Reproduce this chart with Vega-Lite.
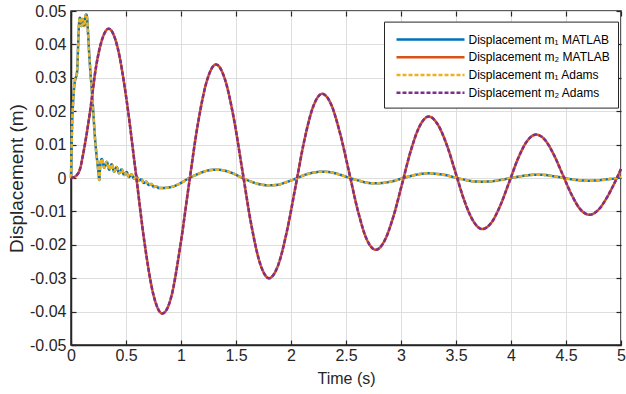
{
  "$schema": "https://vega.github.io/schema/vega-lite/v6.json",
  "width": 550,
  "height": 334,
  "autosize": {"type": "none"},
  "padding": {"left": 71, "top": 11, "right": 5, "bottom": 49},
  "background": "white",
  "config": {
    "font": "Liberation Sans",
    "view": {"stroke": "#262626", "strokeWidth": 1.5},
    "axis": {
      "domainColor": "#262626",
      "domainWidth": 1.5,
      "tickColor": "#262626",
      "tickSize": -5,
      "tickWidth": 1.2,
      "labelColor": "#262626",
      "labelFont": "Liberation Sans",
      "labelFontSize": 16,
      "labelFlush": false,
      "labelOverlap": false,
      "titleFont": "Liberation Sans",
      "titleFontWeight": "normal",
      "titleColor": "#262626",
      "gridColor": "#dedede",
      "gridWidth": 1
    },
    "legend": {
      "orient": "none",
      "legendX": 313,
      "legendY": 10.6,
      "labelFont": "Liberation Sans",
      "labelFontSize": 12,
      "labelColor": "#000000",
      "labelLimit": 0,
      "symbolType": "M-4,0H4",
      "symbolSize": 289,
      "symbolStrokeWidth": 2.5,
      "symbolOffset": 28.5,
      "labelOffset": 28,
      "strokeColor": "#262626",
      "fillColor": "white",
      "padding": 8,
      "rowPadding": 1.7
    }
  },
  "datasets": {
    "m1": [
      {"t": 0, "y": 0}, {"t": 0.004, "y": 0.007}, {"t": 0.01, "y": 0.016}, {"t": 0.018, "y": 0.022},
      {"t": 0.028, "y": 0.027}, {"t": 0.038, "y": 0.0295}, {"t": 0.048, "y": 0.0305}, {"t": 0.056, "y": 0.032},
      {"t": 0.064, "y": 0.039}, {"t": 0.072, "y": 0.0455}, {"t": 0.08, "y": 0.048}, {"t": 0.088, "y": 0.0472},
      {"t": 0.096, "y": 0.0455}, {"t": 0.104, "y": 0.0476}, {"t": 0.112, "y": 0.0466}, {"t": 0.12, "y": 0.0455},
      {"t": 0.13, "y": 0.0482}, {"t": 0.138, "y": 0.049}, {"t": 0.146, "y": 0.048}, {"t": 0.154, "y": 0.044},
      {"t": 0.164, "y": 0.038}, {"t": 0.176, "y": 0.032}, {"t": 0.19, "y": 0.026}, {"t": 0.204, "y": 0.019},
      {"t": 0.218, "y": 0.012}, {"t": 0.23, "y": 0.0075}, {"t": 0.242, "y": 0.004}, {"t": 0.25, "y": 0.0015},
      {"t": 0.257, "y": -0.0006}, {"t": 0.265, "y": 0.0035}, {"t": 0.28, "y": 0.0057}, {"t": 0.3025, "y": 0.0031},
      {"t": 0.325, "y": 0.0049}, {"t": 0.3475, "y": 0.0025}, {"t": 0.37, "y": 0.0041}, {"t": 0.3925, "y": 0.0019},
      {"t": 0.415, "y": 0.0033}, {"t": 0.4375, "y": 0.0014}, {"t": 0.46, "y": 0.0026}, {"t": 0.4825, "y": 0.0009},
      {"t": 0.505, "y": 0.0018}, {"t": 0.5275, "y": 0.0003}, {"t": 0.55, "y": 0.0011}, {"t": 0.5725, "y": -0.0002},
      {"t": 0.595, "y": 0.0005}, {"t": 0.6175, "y": -0.0008}, {"t": 0.64, "y": -0.0004}, {"t": 0.6625, "y": -0.0015},
      {"t": 0.685, "y": -0.0011}, {"t": 0.7075, "y": -0.0021}, {"t": 0.73, "y": -0.0018}, {"t": 0.7525, "y": -0.0027},
      {"t": 0.775, "y": -0.0025}, {"t": 0.7975, "y": -0.003}, {"t": 0.83, "y": -0.003}, {"t": 0.911, "y": -0.0027},
      {"t": 0.993, "y": -0.0016}, {"t": 1.074, "y": 0.0}, {"t": 1.155, "y": 0.0012}, {"t": 1.237, "y": 0.0022},
      {"t": 1.318, "y": 0.0025}, {"t": 1.398, "y": 0.0022}, {"t": 1.479, "y": 0.0013}, {"t": 1.559, "y": 0.0},
      {"t": 1.639, "y": -0.0011}, {"t": 1.72, "y": -0.0019}, {"t": 1.8, "y": -0.0022}, {"t": 1.881, "y": -0.002},
      {"t": 1.961, "y": -0.0012}, {"t": 2.042, "y": -0.0002}, {"t": 2.122, "y": 0.0009}, {"t": 2.203, "y": 0.0016},
      {"t": 2.283, "y": 0.0019}, {"t": 2.364, "y": 0.0017}, {"t": 2.445, "y": 0.001}, {"t": 2.527, "y": 0.0001},
      {"t": 2.608, "y": -0.0007}, {"t": 2.689, "y": -0.0014}, {"t": 2.77, "y": -0.0016}, {"t": 2.85, "y": -0.0014},
      {"t": 2.931, "y": -0.0009}, {"t": 3.011, "y": -0.0001}, {"t": 3.091, "y": 0.0006}, {"t": 3.172, "y": 0.0012},
      {"t": 3.252, "y": 0.0014}, {"t": 3.333, "y": 0.0012}, {"t": 3.415, "y": 0.0008}, {"t": 3.496, "y": 0.0001},
      {"t": 3.577, "y": -0.0005}, {"t": 3.659, "y": -0.001}, {"t": 3.74, "y": -0.0011}, {"t": 3.821, "y": -0.001},
      {"t": 3.903, "y": -0.0006}, {"t": 3.984, "y": -0.0001}, {"t": 4.065, "y": 0.0004}, {"t": 4.147, "y": 0.0008},
      {"t": 4.228, "y": 0.001}, {"t": 4.309, "y": 0.0009}, {"t": 4.389, "y": 0.0005}, {"t": 4.47, "y": 0.0001},
      {"t": 4.551, "y": -0.0004}, {"t": 4.631, "y": -0.0007}, {"t": 4.712, "y": -0.0008}, {"t": 4.792, "y": -0.0007},
      {"t": 4.871, "y": -0.0004}, {"t": 4.951, "y": -0.0001}, {"t": 5.0, "y": 0.0003}
    ],
    "m2": [
      {"t": 0, "y": 0}, {"t": 0.04, "y": 0.0005}, {"t": 0.08, "y": 0.0025}, {"t": 0.114, "y": 0.0078},
      {"t": 0.1715, "y": 0.0195}, {"t": 0.2287, "y": 0.0335}, {"t": 0.2858, "y": 0.0418}, {"t": 0.343, "y": 0.0447},
      {"t": 0.424, "y": 0.039}, {"t": 0.505, "y": 0.0234}, {"t": 0.587, "y": 0.0021}, {"t": 0.668, "y": -0.0193},
      {"t": 0.749, "y": -0.0349}, {"t": 0.83, "y": -0.0406}, {"t": 0.911, "y": -0.0356}, {"t": 0.993, "y": -0.0205},
      {"t": 1.074, "y": -0.0015}, {"t": 1.155, "y": 0.0165}, {"t": 1.237, "y": 0.0293}, {"t": 1.318, "y": 0.034},
      {"t": 1.398, "y": 0.0297}, {"t": 1.479, "y": 0.018}, {"t": 1.559, "y": 0.002}, {"t": 1.639, "y": -0.014},
      {"t": 1.72, "y": -0.0257}, {"t": 1.8, "y": -0.03}, {"t": 1.881, "y": -0.0263}, {"t": 1.961, "y": -0.0162},
      {"t": 2.042, "y": -0.0024}, {"t": 2.122, "y": 0.0114}, {"t": 2.203, "y": 0.0215}, {"t": 2.283, "y": 0.0252},
      {"t": 2.364, "y": 0.0221}, {"t": 2.445, "y": 0.0135}, {"t": 2.527, "y": 0.0019}, {"t": 2.608, "y": -0.0098},
      {"t": 2.689, "y": -0.0184}, {"t": 2.77, "y": -0.0215}, {"t": 2.85, "y": -0.0188}, {"t": 2.931, "y": -0.0115},
      {"t": 3.011, "y": -0.0016}, {"t": 3.091, "y": 0.0084}, {"t": 3.172, "y": 0.0157}, {"t": 3.252, "y": 0.0184},
      {"t": 3.333, "y": 0.0161}, {"t": 3.415, "y": 0.01}, {"t": 3.496, "y": 0.0016}, {"t": 3.577, "y": -0.0069},
      {"t": 3.659, "y": -0.013}, {"t": 3.74, "y": -0.0153}, {"t": 3.821, "y": -0.0134}, {"t": 3.903, "y": -0.0082},
      {"t": 3.984, "y": -0.0012}, {"t": 4.065, "y": 0.0059}, {"t": 4.147, "y": 0.0111}, {"t": 4.228, "y": 0.013},
      {"t": 4.309, "y": 0.0114}, {"t": 4.389, "y": 0.007}, {"t": 4.47, "y": 0.001}, {"t": 4.551, "y": -0.005},
      {"t": 4.631, "y": -0.0094}, {"t": 4.712, "y": -0.011}, {"t": 4.792, "y": -0.0096}, {"t": 4.871, "y": -0.0059},
      {"t": 4.951, "y": -0.0008}, {"t": 5.0, "y": 0.0027}
    ]
  },
  "layer": [
    {
      "data": {"name": "m1"},
      "mark": {"type": "line", "strokeWidth": 2.5, "interpolate": "monotone"},
      "encoding": {
        "x": {"field": "t", "type": "quantitative", "scale": {"domain": [0, 5], "nice": false},
          "axis": {"values": [0, 0.5, 1, 1.5, 2, 2.5, 3, 3.5, 4, 4.5, 5], "title": "Time (s)", "titleFontSize": 16,
            "labelExpr": "format(datum.value, '~g')", "labelPadding": 7, "titlePadding": 7, "grid": true}},
        "y": {"field": "y", "type": "quantitative", "scale": {"domain": [-0.05, 0.05], "nice": false, "zero": false},
          "axis": {"values": [-0.05, -0.04, -0.03, -0.02, -0.01, 0, 0.01, 0.02, 0.03, 0.04, 0.05], "title": "Displacement (m)", "titleFontSize": 19,
            "labelExpr": "replace(format(datum.value, '.2~f'), '−', '-')", "labelPadding": 10, "titlePadding": 3, "grid": true}},
        "color": {"datum": "Displacement m₁ MATLAB", "type": "nominal",
          "scale": {"domain": ["Displacement m₁ MATLAB", "Displacement m₂ MATLAB", "Displacement m₁ Adams", "Displacement m₂ Adams"],
            "range": ["#0072BD", "#D95319", "#EDB120", "#7E2F8E"]},
          "legend": {"title": null}},
        "strokeDash": {"datum": "Displacement m₁ MATLAB", "type": "nominal",
          "scale": {"domain": ["Displacement m₁ MATLAB", "Displacement m₂ MATLAB", "Displacement m₁ Adams", "Displacement m₂ Adams"],
            "range": [[1, 0], [1, 0], [4, 2], [4, 2]]},
          "legend": {"title": null}}
      }
    },
    {
      "data": {"name": "m2"},
      "mark": {"type": "line", "strokeWidth": 2.5, "interpolate": "monotone"},
      "encoding": {
        "x": {"field": "t", "type": "quantitative", "axis": null},
        "y": {"field": "y", "type": "quantitative", "axis": null},
        "color": {"datum": "Displacement m₂ MATLAB", "type": "nominal"},
        "strokeDash": {"datum": "Displacement m₂ MATLAB", "type": "nominal"}
      }
    },
    {
      "data": {"name": "m1"},
      "mark": {"type": "line", "strokeWidth": 2.5, "interpolate": "monotone"},
      "encoding": {
        "x": {"field": "t", "type": "quantitative",
          "axis": {"orient": "top", "values": [0, 0.5, 1, 1.5, 2, 2.5, 3, 3.5, 4, 4.5, 5], "labels": false, "title": null, "grid": false, "domain": false}},
        "y": {"field": "y", "type": "quantitative",
          "axis": {"orient": "right", "values": [-0.05, -0.04, -0.03, -0.02, -0.01, 0, 0.01, 0.02, 0.03, 0.04, 0.05], "labels": false, "title": null, "grid": false, "domain": false}},
        "color": {"datum": "Displacement m₁ Adams", "type": "nominal"},
        "strokeDash": {"datum": "Displacement m₁ Adams", "type": "nominal"}
      }
    },
    {
      "data": {"name": "m2"},
      "mark": {"type": "line", "strokeWidth": 2.5, "interpolate": "monotone"},
      "encoding": {
        "x": {"field": "t", "type": "quantitative", "axis": null},
        "y": {"field": "y", "type": "quantitative", "axis": null},
        "color": {"datum": "Displacement m₂ Adams", "type": "nominal"},
        "strokeDash": {"datum": "Displacement m₂ Adams", "type": "nominal"}
      }
    }
  ],
  "resolve": {"axis": {"x": "independent", "y": "independent"}}
}
